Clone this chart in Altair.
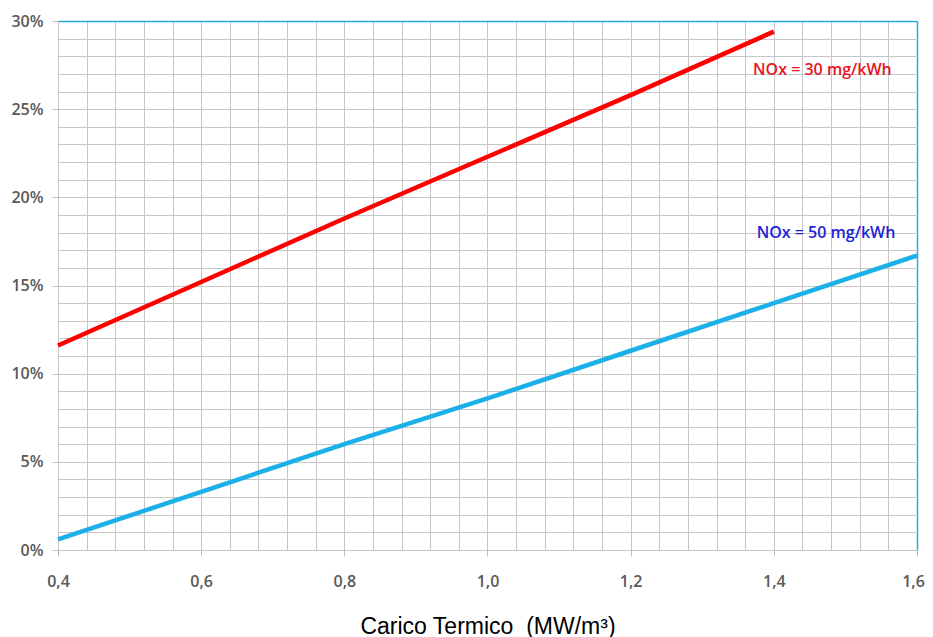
import altair as alt
import pandas as pd

# --- data ---
x_red = [0.4, 0.6, 0.8, 1.0, 1.2, 1.4]
y_red = [11.6, 15.2, 18.8, 22.3, 25.8, 29.4]
x_blue = [0.4, 0.6, 0.8, 1.0, 1.2, 1.4, 1.6]
y_blue = [0.6, 3.3, 6.0, 8.6, 11.3, 14.0, 16.7]
series_names = ["NOx = 30 mg/kWh", "NOx = 50 mg/kWh"]
line_colors = ["#ff0000", "#1cb0e8"]
label_colors = ["#e8141e", "#1e22d8"]
label_x = [1.371, 1.376]
label_y = [27.2, 18.0]

x_grid = [round(0.4 + 0.04 * i, 2) for i in range(31)]
y_grid = list(range(0, 31))

df = pd.DataFrame(
    {"x": x_red + x_blue,
     "y": y_red + y_blue,
     "s": [series_names[0]] * len(x_red) + [series_names[1]] * len(x_blue)}
)
lab = pd.DataFrame({"x": label_x, "y": label_y, "t": series_names, "c": label_colors})

major_x = "abs(datum.value*5 - round(datum.value*5)) < 0.001"
major_y = "datum.value % 5 == 0"

xaxis = alt.Axis(
    values=x_grid,
    tickCount=200,
    labelExpr=f"{major_x} ? replace(format(datum.value, '.1f'), '.', ',') : ''",
    grid=True,
    gridColor={"condition": {"test": "datum.value > 1.599", "value": "#2aa8e0"}, "value": "#c6c6c6"},
    gridWidth={"condition": {"test": "datum.value > 1.599", "value": 1.5}, "value": 1},
    domain=False,
    ticks=True,
    tickSize=6,
    tickColor="#bdbdbd",
    tickOpacity={"condition": {"test": major_x, "value": 1}, "value": 0},
    labelFont="Open Sans",
    labelFontSize=16,
    labelFontWeight=600,
    labelColor="#595959",
    labelPadding=17,
    labelOffset={"condition": {"test": "datum.value > 1.599", "value": -4}, "value": 0},
    labelFlush=False,
    labelOverlap=False,
    title="Carico Termico \u00a0(MW/m\u00b3)",
    titleFont="Liberation Sans",
    titleFontSize=23,
    titleFontWeight="normal",
    titleColor="#000000",
    titlePadding=26,
)
yaxis = alt.Axis(
    values=y_grid,
    tickCount=200,
    labelExpr=f"{major_y} ? datum.value + '%' : ''",
    grid=True,
    gridColor={"condition": {"test": "datum.value >= 30", "value": "#2aa8e0"}, "value": "#c6c6c6"},
    gridWidth={"condition": {"test": "datum.value >= 30", "value": 1.5}, "value": 1},
    domain=False,
    ticks=True,
    tickSize=6,
    tickColor="#bdbdbd",
    tickOpacity={"condition": {"test": major_y, "value": 1}, "value": 0},
    labelFont="Open Sans",
    labelFontSize=16,
    labelFontWeight=600,
    labelColor="#595959",
    labelPadding=9,
    labelOverlap=False,
    title=None,
)

xs = alt.Scale(domain=[0.4, 1.6], nice=False, zero=False)
ys = alt.Scale(domain=[0, 30], nice=False, zero=True)

lines = alt.Chart(df).mark_line(strokeWidth=4.5).encode(
    x=alt.X("x:Q", scale=xs, axis=xaxis),
    y=alt.Y("y:Q", scale=ys, axis=yaxis),
    color=alt.Color("s:N", scale=alt.Scale(domain=series_names, range=line_colors), legend=None),
)

labels = alt.Chart(lab).mark_text(
    align="left", baseline="middle", font="Open Sans", fontSize=16, fontWeight=600
).encode(
    x=alt.X("x:Q", scale=xs),
    y=alt.Y("y:Q", scale=ys),
    text="t:N",
    color=alt.Color("c:N", scale=None),
)

chart = (
    alt.layer(lines, labels)
    .properties(
        width=859,
        height=529,
        padding={"left": 50, "top": 13, "right": 8, "bottom": 87},
        autosize=alt.AutoSizeParams(type="none"),
    )
    .configure_view(stroke=None)
    .configure(background="white")
)

chart.save("out.html", embed_options={"renderer": "svg", "actions": False})
